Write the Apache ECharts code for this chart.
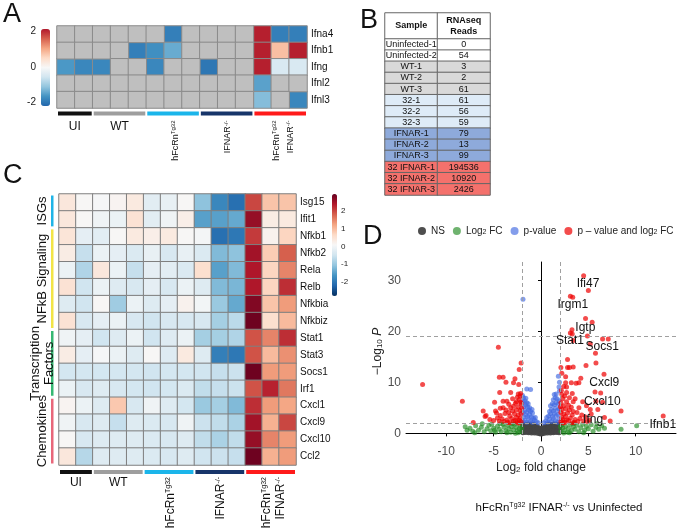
<!DOCTYPE html>
<html>
<head>
<meta charset="utf-8">
<script src="https://cdn.jsdelivr.net/npm/echarts@6/dist/echarts.min.js"></script>
<style>
html, body { margin: 0; padding: 0; background: #fff; }
#chart { width: 677px; height: 530px; }
</style>
</head>
<body>
<div id="chart"></div>
<script>
const FONT = '"Liberation Sans", Arial, sans-serif';

// 14 samples: UI x2, WT x3, hFcRn x3, IFNAR x3, hFcRn/IFNAR x3
const sampleCols = ['UI-1', 'UI-2', 'WT-1', 'WT-2', 'WT-3', '32-1', '32-2', '32-3',
  'IFNAR-1', 'IFNAR-2', 'IFNAR-3', 'DKO-1', 'DKO-2', 'DKO-3'];
const groupSizes = [2, 3, 3, 3, 3];
const groupColors = ['#111111', '#9e9e9e', '#1bb5ea', '#17356a', '#ff1a1a'];

// ---- panel A : interferons (null = not detected, grey) ----
const aGenes = ['Ifna4', 'Ifnb1', 'Ifng', 'Ifnl2', 'Ifnl3'];
const aRows = [
  [null, null, null, null, null, null, -1.9, null, null, null, null, 2.1, -1.9, -1.9],
  [null, null, null, null, -1.9, -1.7, -1.4, null, null, null, null, 2.1, 0.8, 2.1],
  [-1.6, -1.8, -1.8, null, null, -1.8, null, null, -2.0, null, null, 2.1, -0.45, -0.45],
  [null, null, null, null, null, null, null, null, null, null, null, -1.5, null, null],
  [null, null, null, null, null, null, null, null, null, null, null, -1.2, null, -1.8]
];
const aTicks = [-2, 0, 2];

// ---- panel B : table ----
const tableSamples = ['Uninfected-1', 'Uninfected-2', 'WT-1', 'WT-2', 'WT-3', '32-1', '32-2', '32-3',
  'IFNAR-1', 'IFNAR-2', 'IFNAR-3', '32 IFNAR-1', '32 IFNAR-2', '32 IFNAR-3'];
const tableReads = [0, 54, 3, 2, 61, 61, 56, 59, 79, 13, 99, 194536, 10920, 2426];
const tableGroup = [0, 0, 1, 1, 1, 2, 2, 2, 3, 3, 3, 4, 4, 4];
const tableColors = ['#ffffff', '#d9d9d9', '#deebf7', '#8eaadb', '#f4716c'];

// ---- panel C : z-scores ----
const cGenes = ['Isg15', 'Ifit1', 'Nfkb1', 'Nfkb2', 'Rela', 'Relb', 'Nfkbia', 'Nfkbiz',
  'Stat1', 'Stat3', 'Socs1', 'Irf1', 'Cxcl1', 'Cxcl9', 'Cxcl10', 'Ccl2'];
const cRows = [
  [0.4, 0.1, 0.05, 0.15, 0.35, -0.25, -0.15, 0.1, -1.1, -1.8, -2.1, 2.0, 0.9, 0.9],
  [0.4, 0.1, -0.05, -0.1, 0.5, -0.25, -0.05, 0.25, -1.5, -1.5, -1.4, 2.6, 0.3, 0.35],
  [0.45, -0.2, -0.25, 0.1, 0.35, 0.25, 0.35, 0.1, 0.02, -2.1, -2.0, 2.1, 0.2, 0.7],
  [0.3, -0.6, -0.1, -0.2, -0.35, -0.15, -0.4, -0.15, -0.35, -1.2, -1.1, 2.5, 0.8, 1.8],
  [-0.1, -0.8, 0.4, -0.1, -0.6, -0.2, -0.25, -0.35, 0.55, -1.5, -1.2, 2.4, 0.7, 1.5],
  [0.5, -0.5, -0.1, -0.3, -0.4, -0.2, -0.4, -0.1, -0.3, -1.2, -1.25, 2.4, 0.7, 2.2],
  [-0.3, -0.5, 0.1, -0.95, -0.1, -0.3, -0.2, 0.2, 0.0, -1.0, -1.4, 2.75, 0.9, 1.3],
  [0.5, -0.4, -0.2, -0.1, -0.4, -0.5, -0.4, -0.4, -0.4, -0.9, -0.7, 2.9, 0.55, 1.0],
  [-0.05, -0.2, -0.5, -0.3, -0.1, -0.5, -0.3, -0.1, -0.9, -0.9, -0.8, 1.9, 1.5, 2.2],
  [0.3, -0.2, 0.05, -0.1, -0.3, 0.1, -0.3, 0.35, -0.3, -1.9, -2.0, 1.9, 1.0, 1.4],
  [-0.45, -0.45, -0.45, -0.45, -0.45, -0.5, -0.45, -0.45, -0.5, -0.6, -0.55, 2.9, 1.3, 1.3],
  [-0.1, -0.4, -0.3, -0.4, -0.45, -0.5, -0.45, -0.35, -0.65, -0.6, -0.55, 1.9, 2.3, 1.6],
  [0.15, -0.1, -0.3, 0.85, -0.4, -0.05, -0.3, -0.45, -1.0, -0.9, -1.2, 2.2, 1.3, 1.2],
  [-0.05, -0.4, -0.3, -0.6, -0.3, -0.35, -0.4, -0.05, -0.55, -0.65, -0.85, 2.5, 1.1, 2.0],
  [0.1, -0.4, -0.3, -0.3, -0.3, -0.35, -0.4, -0.3, -0.65, -0.85, -0.65, 2.6, 1.5, 1.3],
  [0.4, -0.75, -0.3, -0.3, -0.3, -0.35, -0.4, -0.3, -0.5, -0.55, -0.6, 2.9, 1.1, 1.3]
];
const cTicks = [-2, -1, 0, 1, 2];
const cGroupLabels = ['ISGs', 'NFkB Signaling', 'Transcription\nFactors', 'Chemokines'];
const cGroupSizes = [2, 6, 4, 4];
const cGroupColors = ['#1fb4e7', '#f2e446', '#36b873', '#e8677a'];

// ---- panel D : volcano [log2FC, -log10 P] ----
const nsPts = [
  [-1.95, 1.85], [-1.65, 1.8], [-1.35, 1.9], [-1.05, 1.85], [-0.75, 1.8], [0.75, 1.85], [1.05, 1.8], [1.35, 1.9], [1.65, 1.85], [1.95, 1.8],
  [-1.9, 1.5], [-1.6, 1.45], [-1.3, 1.55], [-1.0, 1.5], [-0.7, 1.45], [-0.4, 1.4], [0.4, 1.4], [0.7, 1.5], [1.0, 1.45], [1.3, 1.55], [1.6, 1.5], [1.9, 1.45],
  [-1.95, 1.15], [-1.65, 1.1], [-1.35, 1.2], [-1.05, 1.15], [-0.75, 1.1], [-0.45, 1.15], [-0.15, 1.05], [0.15, 1.05], [0.45, 1.15], [0.75, 1.1], [1.05, 1.2], [1.35, 1.15], [1.65, 1.1], [1.95, 1.2],
  [-1.9, 0.8], [-1.6, 0.75], [-1.3, 0.85], [-1.0, 0.8], [-0.7, 0.75], [-0.4, 0.8], [-0.1, 0.7], [0.1, 0.7], [0.4, 0.8], [0.7, 0.75], [1.0, 0.85], [1.3, 0.8], [1.6, 0.75], [1.9, 0.85],
  [-1.95, 0.45], [-1.65, 0.4], [-1.35, 0.5], [-1.05, 0.45], [-0.75, 0.4], [-0.45, 0.35], [-0.15, 0.3], [0.15, 0.3], [0.45, 0.35], [0.75, 0.4], [1.05, 0.45], [1.35, 0.5], [1.65, 0.4], [1.95, 0.45],
  [-1.9, 0.1], [-1.6, 0.15], [-1.3, 0.1], [-1.0, 0.05], [-0.7, 0.05], [-0.4, 0.0], [-0.15, -0.1], [0.0, -0.15], [0.15, -0.1], [0.4, 0.0], [0.7, 0.05], [1.0, 0.05], [1.3, 0.1], [1.6, 0.15], [1.9, 0.1]
];
const fcPts = [
  [-2.1, 0.3], [-2.3, 0.9], [-2.2, 1.6], [-2.5, 0.5], [-2.6, 1.2], [-2.8, 1.8], [-2.9, 0.7], [-3.1, 1.3], [-3.2, 0.2], [-3.4, 0.9],
  [-3.5, 1.6], [-3.7, 0.5], [-3.9, 1.2], [-4.0, 1.8], [-4.2, 0.3], [-4.4, 0.8], [-4.6, 1.4], [-4.8, 0.2], [-5.0, 1.0], [-5.3, 0.5],
  [-5.5, 1.6], [-5.7, 0.9], [-6.0, 0.3], [-6.3, 1.2], [-6.6, 0.6], [-6.9, 1.5], [-7.2, 0.4], [-7.5, 1.0], [-7.8, 0.6], [-8.0, 1.3],
  [-2.4, 0.1], [-3.0, 1.9], [-3.6, 0.1], [-4.3, 1.9], [-5.2, 1.8], [-6.2, 1.9], [-2.05, 1.0], [-2.7, 0.0], [-4.9, 0.6], [-7.0, 0.1],
  [2.1, 0.4], [2.3, 1.1], [2.2, 1.7], [2.5, 0.6], [2.6, 1.4], [2.8, 0.2], [2.9, 1.0], [3.1, 1.8], [3.2, 0.5], [3.4, 1.3],
  [3.6, 0.8], [3.8, 1.6], [4.0, 0.3], [4.2, 1.1], [4.4, 1.8], [4.6, 0.6], [4.8, 1.4], [5.0, 0.9], [5.3, 1.7], [5.5, 0.4],
  [5.8, 1.2], [6.1, 0.8], [6.4, 1.5], [6.7, 1.0], [8.45, 0.8], [10.1, 1.5], [2.4, 0.05], [3.0, 0.1], [3.5, 1.95], [4.5, 0.1],
  [5.9, 1.9], [2.05, 1.3]
];
const pPts = [
  [-1.9, 2.3], [-1.7, 2.6], [-1.5, 2.2], [-1.3, 2.8], [-1.1, 2.4], [-0.9, 2.2], [-0.7, 2.6], [-0.5, 2.3], [-0.3, 2.1], [-1.8, 3.2],
  [-1.6, 3.6], [-1.4, 3.3], [-1.2, 3.7], [-1.0, 3.2], [-0.8, 3.0], [-0.6, 3.1], [-1.9, 4.1], [-1.7, 4.5], [-1.5, 4.2], [-1.3, 4.6],
  [-1.1, 4.3], [-0.9, 4.0], [-1.8, 5.2], [-1.6, 5.5], [-1.4, 5.1], [-1.2, 5.0], [-1.9, 6.1], [-1.7, 6.4], [-1.5, 6.0], [-1.85, 7.0],
  [-1.6, 6.9], [-1.5, 8.7], [-1.1, 8.6], [-1.9, 26.3], [-1.95, 7.4], [-0.95, 4.7], [-1.35, 5.8],
  [0.3, 2.1], [0.5, 2.4], [0.7, 2.2], [0.9, 2.7], [1.1, 2.3], [1.3, 2.9], [1.5, 2.5], [1.7, 2.2], [1.9, 2.8], [0.6, 3.1],
  [0.8, 3.4], [1.0, 3.8], [1.2, 3.3], [1.4, 3.9], [1.6, 3.5], [1.8, 3.7], [0.9, 4.3], [1.1, 4.7], [1.3, 4.4], [1.5, 4.9],
  [1.7, 4.5], [1.9, 4.8], [1.0, 5.4], [1.2, 5.8], [1.4, 5.6], [1.6, 6.0], [1.8, 5.7], [1.3, 6.6], [1.5, 7.0], [1.7, 6.8],
  [1.9, 6.4], [1.4, 7.6], [1.6, 7.7], [1.83, 11.2], [1.95, 10.0], [1.9, 9.1], [1.95, 8.3]
];
const bothPts = [
  [4.5, 30.9], [5.0, 28.0], [3.1, 26.9], [3.35, 26.7], [4.7, 22.5], [5.4, 21.8], [3.27, 20.3], [3.1, 19.7], [3.3, 19.5], [4.9, 19.1],
  [6.5, 18.5], [7.1, 18.5], [3.4, 18.2], [5.2, 17.5], [-4.5, 16.9], [5.75, 15.7], [2.8, 14.5], [2.8, 12.9], [3.0, 12.9], [3.4, 13.0],
  [4.75, 13.3], [5.8, 13.8], [2.1, 12.9], [2.2, 11.8], [4.2, 10.8], [2.6, 11.1], [6.65, 11.6], [2.6, 9.9], [3.2, 9.9], [3.7, 9.8],
  [4.0, 9.9], [2.7, 9.1], [2.7, 8.0], [3.3, 7.8], [5.7, 8.1], [6.3, 7.9], [5.8, 6.3], [6.5, 6.1], [3.4, 6.2], [4.8, 5.4],
  [5.2, 4.7], [6.0, 4.7], [8.45, 4.4], [12.9, 3.4], [6.7, 3.1], [7.3, 2.4],
  [-2.1, 13.8], [-2.3, 12.5], [-4.4, 11.0], [-4.0, 11.0], [-2.75, 10.7], [-3.7, 10.0], [-2.9, 9.9], [-2.35, 9.6], [-12.5, 9.6], [-4.36, 8.0],
  [-3.2, 8.0], [-2.4, 7.7], [-2.15, 7.8], [-8.3, 6.3], [-4.9, 6.1], [-4.0, 6.3], [-3.6, 6.3], [-2.6, 6.2], [-4.3, 4.9], [-4.0, 5.0],
  [-6.1, 4.4], [-4.8, 4.4], [-4.7, 4.0], [-5.8, 3.5], [-5.4, 2.7], [-7.15, 2.15], [-5.9, 3.3],
  [-2.1, 2.3], [-2.3, 2.6], [-2.5, 2.2], [-2.2, 3.0], [-2.6, 3.1], [-2.9, 2.4], [-3.1, 2.9], [-2.4, 3.6], [-2.1, 3.9], [-2.8, 3.8],
  [-3.3, 3.4], [-3.6, 2.6], [-3.9, 2.3], [-2.2, 4.5], [-2.6, 4.6], [-3.0, 4.4], [-3.4, 4.1], [-2.4, 5.2], [-2.9, 5.3], [-3.2, 5.0],
  [-2.1, 5.8], [-2.7, 5.9], [-3.5, 2.2], [-4.1, 2.8], [-4.3, 3.5], [-3.8, 3.9], [-2.3, 6.6], [-2.5, 7.1], [-3.0, 6.8], [-2.2, 7.3],
  [-3.4, 5.7], [-4.4, 2.4], [-2.05, 4.9], [-2.7, 2.5], [-3.3, 2.1], [-2.35, 2.05], [-3.7, 4.6], [-4.6, 3.0], [-5.0, 2.5], [-2.15, 6.1],
  [2.1, 2.3], [2.3, 2.7], [2.5, 2.2], [2.2, 3.1], [2.6, 3.3], [2.9, 2.5], [3.1, 3.0], [2.4, 3.8], [2.1, 4.1], [2.8, 4.0],
  [3.3, 3.6], [3.6, 2.7], [3.9, 2.3], [2.2, 4.7], [2.6, 4.8], [3.0, 4.6], [3.4, 4.3], [2.4, 5.4], [2.9, 5.5], [3.2, 5.1],
  [2.1, 6.0], [2.7, 6.2], [3.5, 2.2], [4.1, 2.9], [4.3, 3.6], [3.8, 4.1], [2.3, 6.8], [2.5, 7.3], [3.0, 7.0], [2.2, 7.6],
  [4.5, 2.4], [2.05, 5.2], [2.7, 2.6], [3.3, 2.1], [4.0, 5.0], [4.7, 3.2], [5.1, 2.6], [2.15, 8.4], [2.4, 9.2], [3.6, 6.8],
  [4.4, 6.2], [5.3, 3.8], [4.9, 2.3], [2.35, 2.05]
];
const geneLabels = [
  ['Ifi47', 4.96, 29.3], ['Irgm1', 3.35, 25.2], ['Igtp', 4.68, 20.8], ['Stat1', 3.06, 18.1], ['Socs1', 6.47, 16.9],
  ['Cxcl9', 6.68, 9.9], ['Cxcl10', 6.47, 6.3], ['Ifng', 5.5, 2.6], ['Ifnb1', 12.85, 1.76]
];
const xTicks = [-10, -5, 0, 5, 10];
const yTicks = [0, 10, 20, 30];
const fcCut = 2;
const pCuts = [2, 19.1];

const rdbuA = ['#2166ac', '#4393c3', '#92c5de', '#d1e5f0', '#f7f7f7', '#fddbc7', '#f4a582', '#d6604d', '#b2182b'];
const rdbuC = ['#053061', '#2166ac', '#4393c3', '#92c5de', '#d1e5f0', '#f7f7f7', '#fddbc7', '#f4a582', '#d6604d', '#b2182b', '#67001f'];

const aVal = [], aNA = [];
aRows.forEach((row, r) => row.forEach((v, c) => {
  if (v === null) aNA.push([c, r, 0]); else aVal.push([c, r, v]);
}));
const cVal = [];
cRows.forEach((row, r) => row.forEach((v, c) => cVal.push([c, r, v])));

const tableBody = [];
tableSamples.forEach((s, i) => {
  [0, 1].forEach(c => tableBody.push({ value: [c, i, 0], itemStyle: { color: tableColors[tableGroup[i]] } }));
});

function hiddenAxis(grid, type, data) {
  const a = { gridIndex: grid, type: type, show: false };
  if (data) a.data = data;
  return a;
}
function catY(grid, data, fs) {
  return {
    gridIndex: grid, type: 'category', data: data, inverse: true, position: 'right',
    axisLine: { show: false }, axisTick: { show: false }, splitLine: { show: false },
    axisLabel: { fontSize: fs, color: '#111', margin: 4, fontFamily: FONT }
  };
}
const volcStyle = { symbolSize: 5, silent: true, xAxisIndex: 6, yAxisIndex: 6 };

const chart = echarts.init(document.getElementById('chart'), null, { renderer: 'canvas' });
const option = {
  animation: false,
  backgroundColor: '#fff',
  textStyle: { fontFamily: FONT },
  grid: [
    { left: 57, top: 26, width: 250, height: 82 },
    { left: 41, top: 29, width: 9, height: 77 },
    { left: 385, top: 13, width: 105, height: 26 },
    { left: 385, top: 39, width: 105, height: 156 },
    { left: 59, top: 194, width: 237, height: 271 },
    { left: 332, top: 194, width: 5, height: 102 },
    { left: 406, top: 262, width: 270, height: 179 }
  ],
  xAxis: [
    hiddenAxis(0, 'category', sampleCols),
    hiddenAxis(1, 'value'),
    hiddenAxis(2, 'category', ['Sample', 'Reads']),
    hiddenAxis(3, 'category', ['Sample', 'Reads']),
    hiddenAxis(4, 'category', sampleCols),
    hiddenAxis(5, 'value'),
    {
      gridIndex: 6, type: 'value', min: -14.25, max: 14.25,
      axisLine: { lineStyle: { color: '#000', width: 1 } },
      axisTick: { customValues: xTicks, length: 3, lineStyle: { color: '#000' } },
      axisLabel: { customValues: xTicks, fontSize: 12, color: '#4d4d4d', margin: 5 },
      splitLine: { show: false },
      name: 'Log{sub|2} fold change', nameLocation: 'middle', nameGap: 21,
      nameTextStyle: { fontSize: 12, color: '#222', rich: { sub: { fontSize: 8, color: '#222', verticalAlign: 'bottom', padding: [4, 0, 0, 0] } } }
    }
  ],
  yAxis: [
    catY(0, aGenes, 10),
    {
      gridIndex: 1, type: 'value', min: -2.2, max: 2.15, position: 'left',
      axisLine: { show: false }, axisTick: { show: false }, splitLine: { show: false },
      axisLabel: { customValues: aTicks, fontSize: 10, color: '#222', margin: 5 }
    },
    hiddenAxis(2, 'category', ['h']),
    { gridIndex: 3, type: 'category', data: tableSamples, inverse: true, show: false },
    catY(4, cGenes, 10),
    {
      gridIndex: 5, type: 'value', min: -2.8, max: 2.95, position: 'right',
      axisLine: { show: false }, axisTick: { show: false }, splitLine: { show: false },
      axisLabel: { customValues: cTicks, fontSize: 8, color: '#222', margin: 4 }
    },
    {
      gridIndex: 6, type: 'value', min: -1.5, max: 33.6,
      axisLine: { show: true, lineStyle: { color: '#000', width: 1 } },
      axisTick: { show: true, customValues: yTicks, length: 3, lineStyle: { color: '#000' } },
      axisLabel: { customValues: yTicks, fontSize: 12, color: '#4d4d4d', margin: 5 },
      splitLine: { show: false },
      name: '\u2212Log{sub|10} {it|P}', nameLocation: 'middle', nameGap: 16,
      nameTextStyle: { fontSize: 12, color: '#222', rich: {
        sub: { fontSize: 8, color: '#222', verticalAlign: 'bottom', padding: [4, 0, 0, 0] },
        it: { fontSize: 12, color: '#222', fontStyle: 'italic' } } }
    }
  ],
  visualMap: [
    {
      type: 'continuous', seriesIndex: 0, dimension: 2, min: -2.2, max: 2.15,
      inRange: { color: rdbuA }, calculable: false, hoverLink: false,
      left: 41, top: 29, itemWidth: 9, itemHeight: 77, padding: 0, text: null, show: true
    },
    {
      type: 'continuous', seriesIndex: 4, dimension: 2, min: -2.8, max: 2.95,
      inRange: { color: rdbuC }, calculable: false, hoverLink: false,
      left: 332, top: 194, itemWidth: 5, itemHeight: 102, padding: 0, text: null, show: true
    }
  ],
  legend: {
    top: 226, left: 418, padding: 0, itemWidth: 8, itemHeight: 8, itemGap: 8, icon: 'circle',
    data: ['NS', 'Log2 FC', 'p-value', 'p \u2013 value and log2 FC'],
    formatter: function (n) {
      if (n === 'Log2 FC') return 'Log{sub|2} FC';
      if (n === 'p \u2013 value and log2 FC') return 'p \u2013 value and log{sub|2} FC';
      return n;
    },
    textStyle: { fontSize: 10, color: '#222', rich: { sub: { fontSize: 7, color: '#222', verticalAlign: 'bottom', padding: [3, 0, 0, 0] } } }
  },
  series: [
    {
      type: 'heatmap', xAxisIndex: 0, yAxisIndex: 0, data: aVal, silent: true,
      itemStyle: { borderColor: '#8a8a8a', borderWidth: 1 }, emphasis: { disabled: true }
    },
    {
      type: 'heatmap', xAxisIndex: 0, yAxisIndex: 0, data: aNA, silent: true,
      itemStyle: { color: '#bfbfbf', borderColor: '#8a8a8a', borderWidth: 1 }, emphasis: { disabled: true }
    },
    {
      type: 'heatmap', xAxisIndex: 2, yAxisIndex: 2, silent: true,
      data: [{ value: [0, 0, 0], itemStyle: { color: '#fff' } }, { value: [1, 0, 0], itemStyle: { color: '#fff' } }],
      itemStyle: { borderColor: '#666', borderWidth: 1 }, emphasis: { disabled: true },
      label: { show: true, fontSize: 9, fontWeight: 'bold', color: '#111', lineHeight: 11,
        formatter: p => p.value[0] === 0 ? 'Sample' : 'RNAseq\nReads' }
    },
    {
      type: 'heatmap', xAxisIndex: 3, yAxisIndex: 3, silent: true, data: tableBody,
      itemStyle: { borderColor: '#666', borderWidth: 1 }, emphasis: { disabled: true },
      label: { show: true, fontSize: 9, color: '#111',
        formatter: p => p.value[0] === 0 ? tableSamples[p.value[1]] : String(tableReads[p.value[1]]) }
    },
    {
      type: 'heatmap', xAxisIndex: 4, yAxisIndex: 4, data: cVal, silent: true,
      itemStyle: { borderColor: '#7f7f7f', borderWidth: 1 }, emphasis: { disabled: true }
    },
    Object.assign({ type: 'scatter', name: 'NS', data: nsPts, itemStyle: { color: '#444444', opacity: 0.95 },
      markLine: { silent: true, symbol: 'none', label: { show: false },
        lineStyle: { type: [4, 3], color: '#a0a0a0', width: 1 },
        data: [{ xAxis: -fcCut }, { xAxis: fcCut }, { yAxis: pCuts[0] }, { yAxis: pCuts[1] }] } }, volcStyle),
    Object.assign({ type: 'scatter', name: 'Log2 FC', data: fcPts, itemStyle: { color: '#228b22', opacity: 0.65 } }, volcStyle),
    Object.assign({ type: 'scatter', name: 'p-value', data: pPts, itemStyle: { color: '#4169e1', opacity: 0.65 } }, volcStyle),
    Object.assign({ type: 'scatter', name: 'p \u2013 value and log2 FC', data: bothPts, itemStyle: { color: '#ee0000', opacity: 0.7 } }, volcStyle),
    {
      type: 'scatter', xAxisIndex: 6, yAxisIndex: 6, silent: true, symbolSize: 1, z: 5,
      itemStyle: { color: 'rgba(0,0,0,0)' },
      data: geneLabels.map(g => ({ name: g[0], value: [g[1], g[2]] })),
      label: { show: true, position: 'inside', formatter: '{b}', fontSize: 12, color: '#111',
        opacity: 1, textBorderWidth: 0, textShadowBlur: 0 }
    },
    { type: 'scatter', xAxisIndex: 1, yAxisIndex: 1, data: [], silent: true },
    { type: 'scatter', xAxisIndex: 5, yAxisIndex: 5, data: [], silent: true }
  ]
};
chart.setOption(option);

// annotations placed from the heatmap scales
const graphics = [];
function txt(s, x, y, fs, align, valign, rot, rich) {
  const g = {
    type: 'text', x: x, y: y, silent: true,
    style: { text: s, fontSize: fs, fontFamily: FONT, fill: '#111', align: align, verticalAlign: valign, rich: rich || {} }
  };
  if (rot) g.rotation = rot;
  return g;
}
function geom(gridIndex, nRows) {
  const a = chart.convertToPixel({ gridIndex: gridIndex }, [0, 0]);
  const b = chart.convertToPixel({ gridIndex: gridIndex }, [1, 1]);
  const cw = b[0] - a[0], rh = b[1] - a[1];
  return { x0: a[0] - cw / 2, y0: a[1] - rh / 2, cw: cw, rh: rh, bottom: a[1] - rh / 2 + nRows * rh };
}
function groupBars(g, dy, fs, rfs, gap) {
  const sup = { sup: { fontSize: Math.round(rfs * 0.62), fontFamily: FONT, fill: '#111', verticalAlign: 'top' } };
  const rot = Math.PI / 2;
  let col = 0;
  groupSizes.forEach((n, i) => {
    const x = g.x0 + col * g.cw, w = n * g.cw, y = g.bottom + dy;
    graphics.push({ type: 'rect', silent: true, shape: { x: x + 1, y: y, width: w - 2, height: 4 }, style: { fill: groupColors[i] } });
    const cx = x + w / 2, ty = y + 4 + gap;
    if (i === 0) graphics.push(txt('UI', cx, ty, fs, 'center', 'top'));
    if (i === 1) graphics.push(txt('WT', cx, ty, fs, 'center', 'top'));
    if (i === 2) graphics.push(txt('hFcRn{sup|Tg32}', cx + 2, ty, rfs, 'right', 'middle', rot, sup));
    if (i === 3) graphics.push(txt('IFNAR{sup|-/-}', cx + 1, ty, rfs, 'right', 'middle', rot, sup));
    if (i === 4) {
      graphics.push(txt('hFcRn{sup|Tg32}', cx - 4, ty, rfs, 'right', 'middle', rot, sup));
      graphics.push(txt('IFNAR{sup|-/-}', cx + 10, ty, rfs, 'right', 'middle', rot, sup));
    }
    col += n;
  });
}
const gA = geom(0, aGenes.length);
groupBars(gA, 3.5, 12, 9, 5);
const gC = geom(4, cGenes.length);
groupBars(gC, 5, 12, 12, 3);

// row-group annotations of panel C
let row = 0;
cGroupSizes.forEach((n, i) => {
  const y = gC.y0 + row * gC.rh, h = n * gC.rh;
  graphics.push({ type: 'rect', silent: true, shape: { x: gC.x0 - 8, y: y + 1.5, width: 2.5, height: h - 3 }, style: { fill: cGroupColors[i] } });
  graphics.push({
    type: 'text', silent: true, x: gC.x0 - 17, y: y + h / 2, rotation: Math.PI / 2,
    style: { text: cGroupLabels[i], fontSize: 13, fontFamily: FONT, fill: '#111', align: 'center', verticalAlign: 'middle', lineHeight: 14 }
  });
  row += n;
});

// panel letters and volcano caption
['A', 'B', 'C', 'D'].forEach((l, i) => {
  const pos = [[3, 15], [360, 21], [3, 176], [363, 237]][i];
  graphics.push(txt(l, pos[0], pos[1], 27, 'left', 'middle'));
});
graphics.push(txt('hFcRn{sup|Tg32} IFNAR{sup|-/-} vs Uninfected', 559, 508, 11.5, 'center', 'middle', 0,
  { sup: { fontSize: 7, fontFamily: FONT, fill: '#111', verticalAlign: 'top' } }));

chart.setOption({ graphic: graphics });
</script>
</body>
</html>
